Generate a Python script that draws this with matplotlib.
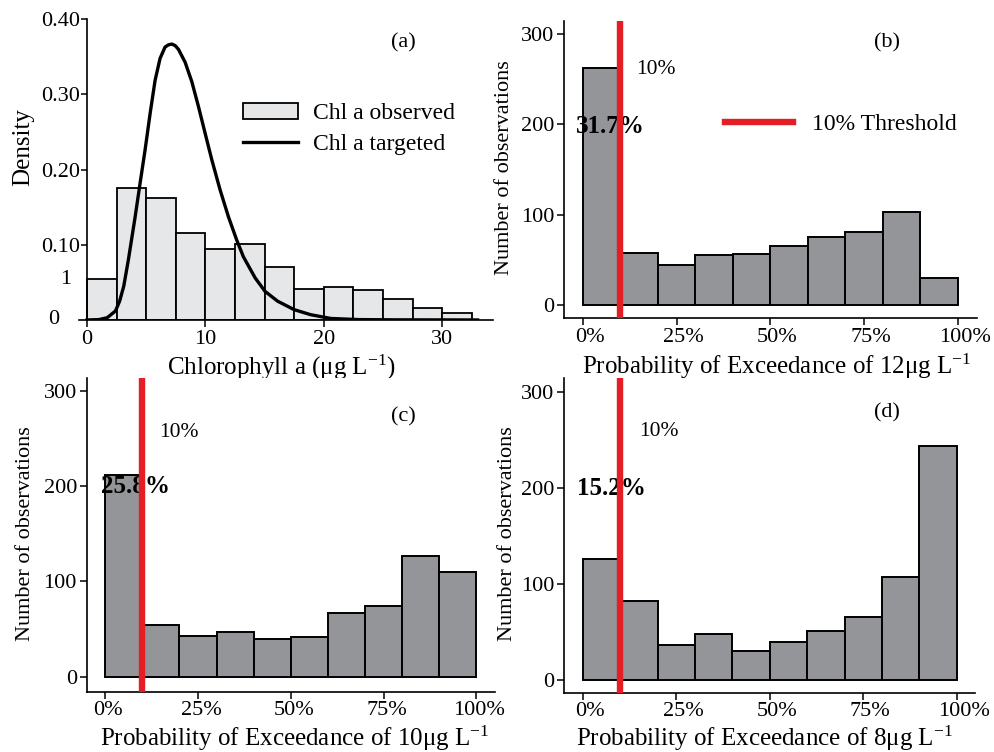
# import libraries
import numpy as np
import matplotlib
matplotlib.use('Agg')
import matplotlib.pyplot as plt
from matplotlib.ticker import PercentFormatter
from matplotlib.transforms import ScaledTranslation

# fonts: Times-like serif everywhere, mathtext too
plt.rcParams['font.family'] = ['Liberation Serif', 'DejaVu Serif']
plt.rcParams['mathtext.fontset'] = 'custom'
plt.rcParams['mathtext.rm'] = 'Liberation Serif'
plt.rcParams['mathtext.it'] = 'Liberation Serif:italic'
plt.rcParams['mathtext.bf'] = 'Liberation Serif:bold'

# ---- data ----
# (a) observed chl a histogram (density), left bin edges, width 2.5
chl_bins = [0, 2.5, 5, 7.5, 10, 12.5, 15, 17.5, 20, 22.5, 25, 27.5, 30]
chl_density = [0.0545, 0.1755, 0.162, 0.116, 0.0948, 0.1015, 0.0709,
               0.0412, 0.0439, 0.0399, 0.0275, 0.0164, 0.0089]

# (a) targeted chl a curve
target_x = [0, 1.0, 1.7, 2.4, 2.75, 3.1, 3.49, 4.06, 4.48, 4.90, 5.33, 5.75,
            6.17, 6.59, 6.88, 7.16, 7.44, 7.72, 8.28, 8.85, 9.41, 9.98,
            10.54, 11.24, 11.95, 12.65, 13.21, 14.2, 15.04, 16.1, 17.5,
            18.9, 20.6, 23.0, 26.0, 30.0, 33.0]
target_y = [0, 0.0005, 0.003, 0.012, 0.025, 0.045, 0.080, 0.137, 0.182,
            0.226, 0.275, 0.319, 0.348, 0.363, 0.366, 0.367, 0.365, 0.360,
            0.343, 0.317, 0.284, 0.248, 0.213, 0.173, 0.137, 0.106, 0.084,
            0.056, 0.038, 0.025, 0.0137, 0.007, 0.002, 0.0005, 0.0002,
            0.0001, 0]

# (b)-(d) probability of exceedance histograms, left bin edges, width 0.1
prob_bins = [0.0, 0.1, 0.2, 0.3, 0.4, 0.5, 0.6, 0.7, 0.8, 0.9]
obs_12 = [263, 58, 44, 55, 56, 65, 75, 81, 103, 30]
obs_10 = [212, 54, 43, 47, 40, 42, 67, 74, 127, 110]
obs_8 = [126, 82, 36, 48, 30, 40, 51, 66, 107, 244]
exceed_pct = ['31.7%', '25.8%', '15.2%']
thresholds = ['12', '10', '8']
panel_tags = ['(b)', '(c)', '(d)']

# colours
red = '#e31e24'
dark_bar = '#939598'
light_bar = '#e6e7e8'

fs_tick = 16
fs_lab = 18


def style_axes(ax, fig, xshift=0):
    #only left and bottom spines
    ax.spines['top'].set_visible(False)
    ax.spines['right'].set_visible(False)
    for s in ['left', 'bottom']:
        ax.spines[s].set_linewidth(1.2)
    ax.tick_params(direction='out', length=5, width=1.1,
                   labelsize=fs_tick, pad=2)
    #small sideways nudge of the x tick labels
    if xshift != 0:
        off = ScaledTranslation(xshift / 100.0, 0, fig.dpi_scale_trans)
        for lab in ax.get_xticklabels():
            lab.set_transform(lab.get_transform() + off)


def density_panel(fig):
    ax = fig.add_axes([0.0795, 0.5745, 0.4165, 0.3999])

    #histogram of observed chl a
    bars = ax.bar(chl_bins, chl_density, width=2.5, align='edge',
                  facecolor=light_bar, edgecolor='black', linewidth=1.3,
                  zorder=2)

    #targeted distribution
    line, = ax.plot(target_x, target_y, color='black', lw=2.4,
                    solid_joinstyle='round', zorder=3)

    ax.set_xlim(-0.68, 34.3)
    ax.set_ylim(0, 0.40)
    ax.spines['left'].set_position(('data', 0))
    ax.set_xticks([0, 10, 20, 30])
    ax.set_yticks([0.1, 0.2, 0.3, 0.4])
    ax.set_yticklabels(['0.10', '0.20', '0.30', '0.40'])
    style_axes(ax, fig)
    ax.tick_params(axis='y', pad=1, length=4)

    #stray labels near the bottom of the y axis
    ax.text(-2.79, 0.001, '0', fontsize=fs_tick, ha='center', va='center')
    ax.text(-1.78, 0.0545, '1', fontsize=fs_tick, ha='center', va='center')

    ax.set_xlabel(r'Chlorophyll a (μg L$^{\mathrm{-1}}$)', fontsize=fs_lab,
                  va='baseline')
    ax.xaxis.set_label_coords(0.489, -0.181)
    ax.set_ylabel('Density', fontsize=18, va='center')
    ax.yaxis.set_label_coords(-0.135, 0.574)

    ax.text(26.7, 0.368, '(a)', fontsize=16, ha='center', va='center')

    ax.legend([bars, line], ['Chl a observed', 'Chl a targeted'],
              loc='center left', bbox_to_anchor=(0.395, 0.635),
              frameon=False, fontsize=17, borderpad=0, borderaxespad=0,
              handlelength=2.35, handletextpad=0.64, labelspacing=0.4)
    return ax


def exceed_panel(fig, rect, counts, pct, thr, tag, ylims, tag_xy, ten_xy,
                 pct_x, pct_y, xshift, lab_xy, ylab_x, show_legend=False):
    ax = fig.add_axes(rect)

    #histogram of exceedance probabilities
    ax.bar(prob_bins, counts, width=0.1, align='edge', facecolor=dark_bar,
           edgecolor='black', linewidth=1.4, zorder=2)

    #10% threshold
    ax.axvline(0.1, color=red, lw=4.6, zorder=5, label='10% Threshold')

    ax.set_xlim(-0.05, 1.05)
    ax.set_ylim(ylims)
    ax.set_xticks([0, 0.25, 0.5, 0.75, 1.0])
    ax.xaxis.set_major_formatter(PercentFormatter(1.0, decimals=0))
    ax.set_yticks([0, 100, 200, 300])
    style_axes(ax, fig, xshift)

    #annotations
    ax.text(ten_xy[0], ten_xy[1], '10%', fontsize=15.5, ha='left',
            va='center', zorder=6)
    ax.text(pct_x, pct_y, pct, fontsize=18, fontweight='bold', ha='left',
            va='center', zorder=4)
    ax.text(tag_xy[0], tag_xy[1], tag, fontsize=16, ha='center',
            va='center')

    ax.set_xlabel('Probability of Exceedance of ' + thr +
                  r'μg L$^{\mathrm{-1}}$', fontsize=fs_lab, va='baseline')
    ax.xaxis.set_label_coords(lab_xy[0], lab_xy[1])
    ax.set_ylabel('Number of observations', fontsize=16, va='center')
    ax.yaxis.set_label_coords(ylab_x, 0.505)

    if show_legend:
        ax.legend(loc='center left', bbox_to_anchor=(0.39, 0.653),
                  frameon=False, fontsize=17, borderpad=0, borderaxespad=0,
                  handlelength=2.9, handletextpad=0.8)
    return ax


def main():

    print('Making a plot...')

    fig = plt.figure(figsize=(9.94, 7.52), dpi=100)

    #panel (a)
    density_panel(fig)

    #panel (b): 12 ug/L
    exceed_panel(fig, [0.5674, 0.5767, 0.4152, 0.3957], obs_12,
                 exceed_pct[0], thresholds[0], panel_tags[0],
                 (-14.7, 314.8), (0.81, 290), (0.143, 261),
                 -0.0195, 197.4, 7, (0.515, -0.188), -0.143,
                 show_legend=True)

    #panel (c): 10 ug/L
    exceed_panel(fig, [0.0872, 0.0802, 0.4108, 0.4168], obs_10,
                 exceed_pct[1], thresholds[1], panel_tags[1],
                 (-15.7, 313), (0.802, 272.8), (0.144, 255.7),
                 -0.0115, 199.4, 3, (0.51, -0.172), -0.151)

    #panel (d): 8 ug/L
    exceed_panel(fig, [0.5677, 0.0789, 0.4135, 0.4181], obs_8,
                 exceed_pct[2], thresholds[2], panel_tags[2],
                 (-13.2, 314), (0.813, 277.5), (0.1505, 258.4),
                 -0.016, 199.5, 7, (0.486, -0.169), -0.139)

    fig.savefig('out.png', dpi=100)


#execute main()
if __name__ == '__main__':
    main()
